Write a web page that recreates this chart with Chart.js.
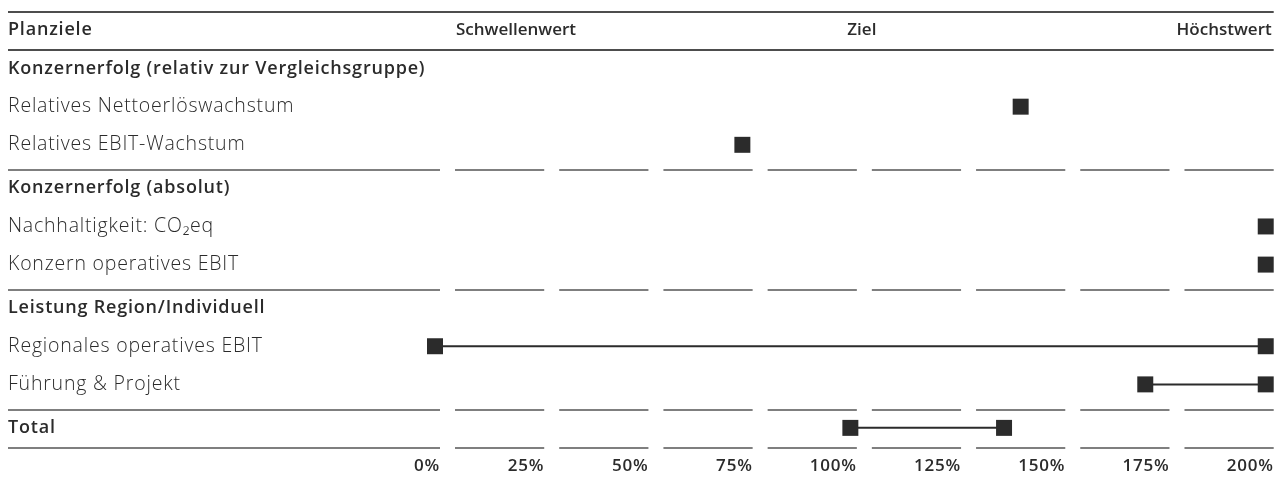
<!DOCTYPE html>
<html lang="de">
<head>
<meta charset="utf-8">
<title>Planziele</title>
<script src="https://cdn.jsdelivr.net/npm/chart.js@4.4.1/dist/chart.umd.min.js"></script>
<style>
  html, body { margin: 0; padding: 0; background: #fff; }
  canvas { display: block; }
</style>
</head>
<body>
<canvas id="chart" width="1285" height="477"></canvas>
<script>
const FONT = "'Open Sans', 'Noto Sans', sans-serif";
const INK = "#2b2b2b";

// Zeilen der Tabelle
const rowLabels = [
  "Konzernerfolg (relativ zur Vergleichsgruppe)",
  "Relatives Nettoerlöswachstum",
  "Relatives EBIT-Wachstum",
  "Konzernerfolg (absolut)",
  "Nachhaltigkeit: CO₂eq",
  "Konzern operatives EBIT",
  "Leistung Region/Individuell",
  "Regionales operatives EBIT",
  "Führung & Projekt",
  "Total"
];
const rowSection = [0, 0, 0, 1, 1, 1, 2, 2, 2, 3];
const headingRows = [0, 3, 6, 9];

// Zielerreichung in % (Anfang und ggf. Ende einer Spanne)
const fromValues = [null, 141, 74, null, 200, 200, null, 0, 171, 100];
const toValues   = [null, null, null, null, null, null, null, 200, 200, 137];

const tickValues = [0, 25, 50, 75, 100, 125, 150, 175, 200];
const headerLabels = ["Schwellenwert", "Ziel", "Höchstwert"];
const headerValues = [0, 100, 200];

// Abschnitte bekommen etwas Luft zwischen sich
const rowPos = i => i + rowSection[i] * 0.14;

const datasets = [];
rowLabels.forEach((_, i) => {
  if (fromValues[i] === null) return;
  const pts = [{ x: fromValues[i], y: rowPos(i) }];
  if (toValues[i] !== null) pts.push({ x: toValues[i], y: rowPos(i) });
  datasets.push({
    data: pts,
    xAxisID: "xm",
    clip: false,
    borderColor: INK,
    backgroundColor: INK,
    borderWidth: 2,
    pointStyle: "rect",
    pointRadius: 11.3,
    pointBorderWidth: 0,
    pointHoverRadius: 11.3
  });
});

// etwas Laufweite für die Achsenbeschriftungen
const spacing = {
  id: "spacing",
  beforeDraw(chart) { chart.ctx.letterSpacing = "0.8px"; }
};

const tableLines = {
  id: "tableLines",
  beforeDatasetsDraw(chart) {
    const { ctx, scales: { x, y } } = chart;
    const left = 8, right = x.right;
    ctx.save();
    ctx.letterSpacing = "0px";

    // Linien oben und unter dem Tabellenkopf
    ctx.strokeStyle = "#4d4d4d";
    ctx.lineWidth = 2;
    [-1.484, -0.495].forEach(v => {
      const py = Math.round(y.getPixelForValue(v));
      ctx.beginPath();
      ctx.moveTo(left, py);
      ctx.lineTo(right, py);
      ctx.stroke();
    });

    // Trennlinien nach jedem Abschnitt, mit Lücken an den Skalenwerten
    const seps = [];
    rowSection.forEach((s, i) => {
      if (i < rowSection.length - 1 && rowSection[i + 1] !== s) seps.push(rowPos(i) + 0.67);
    });
    seps.push(rowPos(rowLabels.length - 1) + 0.53);
    ctx.strokeStyle = "#7f7f7f";
    seps.forEach(v => {
      const py = Math.round(y.getPixelForValue(v));
      ctx.beginPath();
      ctx.moveTo(left, py);
      ctx.lineTo(x.getPixelForValue(tickValues[0]), py);
      for (let k = 0; k < tickValues.length - 1; k++) {
        ctx.moveTo(x.getPixelForValue(tickValues[k]) + 15, py);
        ctx.lineTo(x.getPixelForValue(tickValues[k + 1]), py);
      }
      ctx.stroke();
    });

    // Spaltenköpfe
    const hy = y.getPixelForValue(-1);
    ctx.fillStyle = INK;
    ctx.font = "600 17px " + FONT;
    ctx.textBaseline = "middle";
    ctx.textAlign = "left";
    ctx.fillText(headerLabels[0], x.getPixelForValue(headerValues[0]) + 16, hy);
    ctx.textAlign = "center";
    ctx.fillText(headerLabels[1], x.getPixelForValue(headerValues[1]) + 5, hy);
    ctx.textAlign = "right";
    ctx.fillText(headerLabels[2], x.getPixelForValue(headerValues[2]) - 2, hy);
    ctx.restore();
  }
};

new Chart(document.getElementById("chart"), {
  type: "line",
  data: { datasets },
  plugins: [spacing, tableLines],
  options: {
    responsive: false,
    animation: false,
    devicePixelRatio: 1,
    layout: { padding: { left: 8, right: 10, top: 8.4, bottom: 0 } },
    plugins: { legend: { display: false }, tooltip: { enabled: false } },
    scales: {
      x: {
        type: "linear",
        position: "bottom",
        min: -1.2,
        max: 200,
        afterBuildTicks: s => { s.ticks = tickValues.map(v => ({ value: v })); },
        afterFit: s => { s.height = 27; },
        grid: { display: false, drawTicks: false },
        border: { display: false },
        ticks: {
          autoSkip: false,
          maxRotation: 0,
          align: "end",
          padding: 6,
          color: INK,
          font: { family: FONT, size: 17, weight: "600" },
          callback: v => v + "%"
        }
      },
      xm: { type: "linear", display: false, min: 0, max: 201.92 },
      y: {
        type: "linear",
        reverse: true,
        min: -1.5,
        max: 10,
        afterBuildTicks: s => {
          s.ticks = [{ value: -1 }].concat(rowLabels.map((_, i) => ({ value: rowPos(i) })));
        },
        afterFit: s => { s.width = 427; },
        grid: { display: false, drawTicks: false },
        border: { display: false },
        ticks: {
          autoSkip: false,
          crossAlign: "far",
          padding: 0,
          color: INK,
          font: ctx => {
            const i = ctx.index - 1;
            const bold = i < 0 || headingRows.includes(i);
            return { family: FONT, size: bold ? 18 : 19.5, weight: bold ? "600" : "300" };
          },
          callback: (v, i) => (i === 0 ? "Planziele" : rowLabels[i - 1])
        }
      }
    }
  }
});
</script>
</body>
</html>
